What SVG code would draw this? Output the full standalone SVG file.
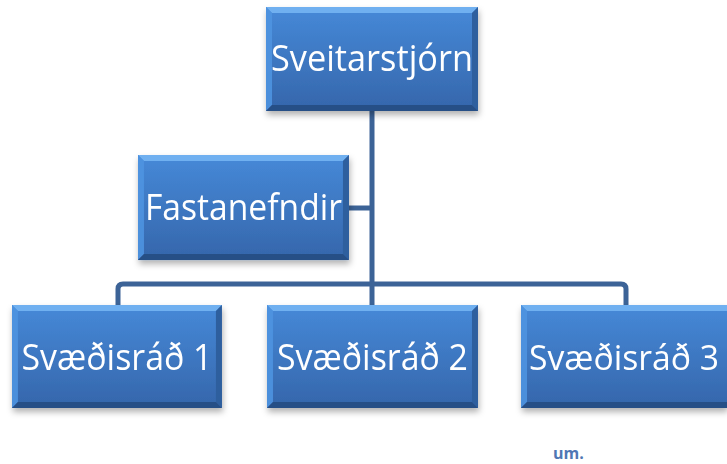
<svg xmlns="http://www.w3.org/2000/svg" xmlns:xlink="http://www.w3.org/1999/xlink" width="727" height="464" viewBox="0 0 727 464">
<defs>
<linearGradient id="fillg" x1="0" y1="0" x2="0" y2="1">
<stop offset="0" stop-color="#4689d8"/>
<stop offset="1" stop-color="#3566ab"/>
</linearGradient>
<filter id="sh" x="-10%" y="-10%" width="125%" height="135%">
<feDropShadow dx="1" dy="4" stdDeviation="3" flood-color="#000" flood-opacity="0.3"/>
</filter>
<g id="box">
<rect x="0" y="0" width="212" height="104" fill="url(#fillg)"/>
<polygon points="0,0 212,0 206,6 6,6" fill="#70b0f0"/>
<polygon points="0,0 6,6 6,98 0,104" fill="#4f93e0" opacity="0.9"/>
<polygon points="212,0 212,104 206,98 206,6" fill="#2f5f9e"/>
<polygon points="0,104 6,98 206,98 212,104" fill="#284f86"/>
</g>
<g id="boxcut">
<rect x="0" y="0" width="206" height="104" fill="url(#fillg)"/>
<polygon points="0,0 206,0 206,6 6,6" fill="#70b0f0"/>
<polygon points="0,0 6,6 6,98 0,104" fill="#4f93e0" opacity="0.9"/>
<polygon points="0,104 6,98 206,98 206,104" fill="#284f86"/>
</g>
</defs>
<style>
.lbl{font-family:"Open Sans","Noto Sans","DejaVu Sans",sans-serif;font-size:37px;fill:#ffffff;}
.conn{fill:none;stroke:#3c6397;stroke-width:5;stroke-linejoin:round;}
.note{font-family:"Open Sans","Noto Sans","DejaVu Sans",sans-serif;font-size:16px;font-weight:bold;fill:#5077b4;}
</style>
<g id="connectors">
<path class="conn" d="M372,111 V305"/>
<path class="conn" d="M349,208 H372"/>
<path class="conn" d="M118,305 V289 Q118,284 123,284 H621 Q626,284 626,289 V305"/>
</g>
<g id="n-sveitarstjorn" filter="url(#sh)">
<use xlink:href="#box" transform="translate(266,7)"/>
<text class="lbl" x="372" y="71" text-anchor="middle" textLength="202" lengthAdjust="spacingAndGlyphs">Sveitarstjórn</text>
</g>
<g id="n-fastanefndir" filter="url(#sh)">
<use xlink:href="#box" transform="translate(138,155) scale(0.995,1.01)"/>
<text class="lbl" x="243.5" y="220" text-anchor="middle" textLength="197" lengthAdjust="spacingAndGlyphs">Fastanefndir</text>
</g>
<g id="n-svaedisrad1" filter="url(#sh)">
<use xlink:href="#box" transform="translate(12,305) scale(0.99,0.99)"/>
<text class="lbl" x="117" y="370" text-anchor="middle" textLength="191" lengthAdjust="spacingAndGlyphs">Svæðisráð 1</text>
</g>
<g id="n-svaedisrad2" filter="url(#sh)">
<use xlink:href="#box" transform="translate(267,305) scale(0.995,0.99)"/>
<text class="lbl" x="372.5" y="370" text-anchor="middle" textLength="191" lengthAdjust="spacingAndGlyphs">Svæðisráð 2</text>
</g>
<g id="n-svaedisrad3" filter="url(#sh)">
<use xlink:href="#boxcut" transform="translate(521,305) scale(1,0.99)"/>
<text class="lbl" x="624" y="370" text-anchor="middle" style="font-size:35px" textLength="190" lengthAdjust="spacingAndGlyphs">Svæðisráð 3</text>
</g>
<text class="note" x="553" y="459">um.</text>
</svg>
